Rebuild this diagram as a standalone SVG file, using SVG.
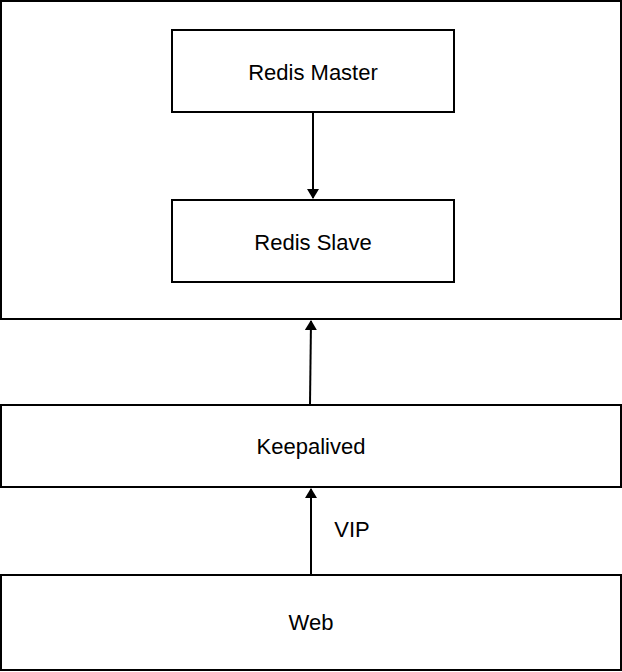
<svg xmlns="http://www.w3.org/2000/svg" width="622" height="672" viewBox="0 0 622 672">
<style>
rect{fill:#fff;stroke:#000;stroke-width:2}
text{font-family:"Liberation Sans",Arial,sans-serif;font-size:22px;fill:#000;text-anchor:middle}
.c{stroke:#000;stroke-width:2;fill:none}
</style>
<defs><marker id="a" markerWidth="10" markerHeight="12" refX="9" refY="6" orient="auto" markerUnits="userSpaceOnUse"><path d="M0,0L10,6L0,12z" fill="#000"/></marker></defs>
<rect x="0" y="0" width="622" height="672" style="stroke:none"/>
<g id="cluster"><rect x="1" y="1" width="620" height="318"/></g>
<g id="master"><rect x="172" y="30" width="282" height="82"/><text x="313" y="80">Redis Master</text></g>
<g id="slave"><rect x="172" y="200" width="282" height="82"/><text x="313" y="250">Redis Slave</text></g>
<g id="keepalived"><rect x="1" y="405" width="620" height="82"/><text x="311" y="454">Keepalived</text></g>
<g id="web"><rect x="1" y="575" width="620" height="95"/><text x="311" y="630">Web</text></g>
<g id="connectors">
<path class="c" d="M313,112V198" marker-end="url(#a)"/>
<path class="c" d="M310,404L311,321" marker-end="url(#a)"/>
<path class="c" d="M311,574V489" marker-end="url(#a)"/>
<text x="352" y="537">VIP</text>
</g>
</svg>
